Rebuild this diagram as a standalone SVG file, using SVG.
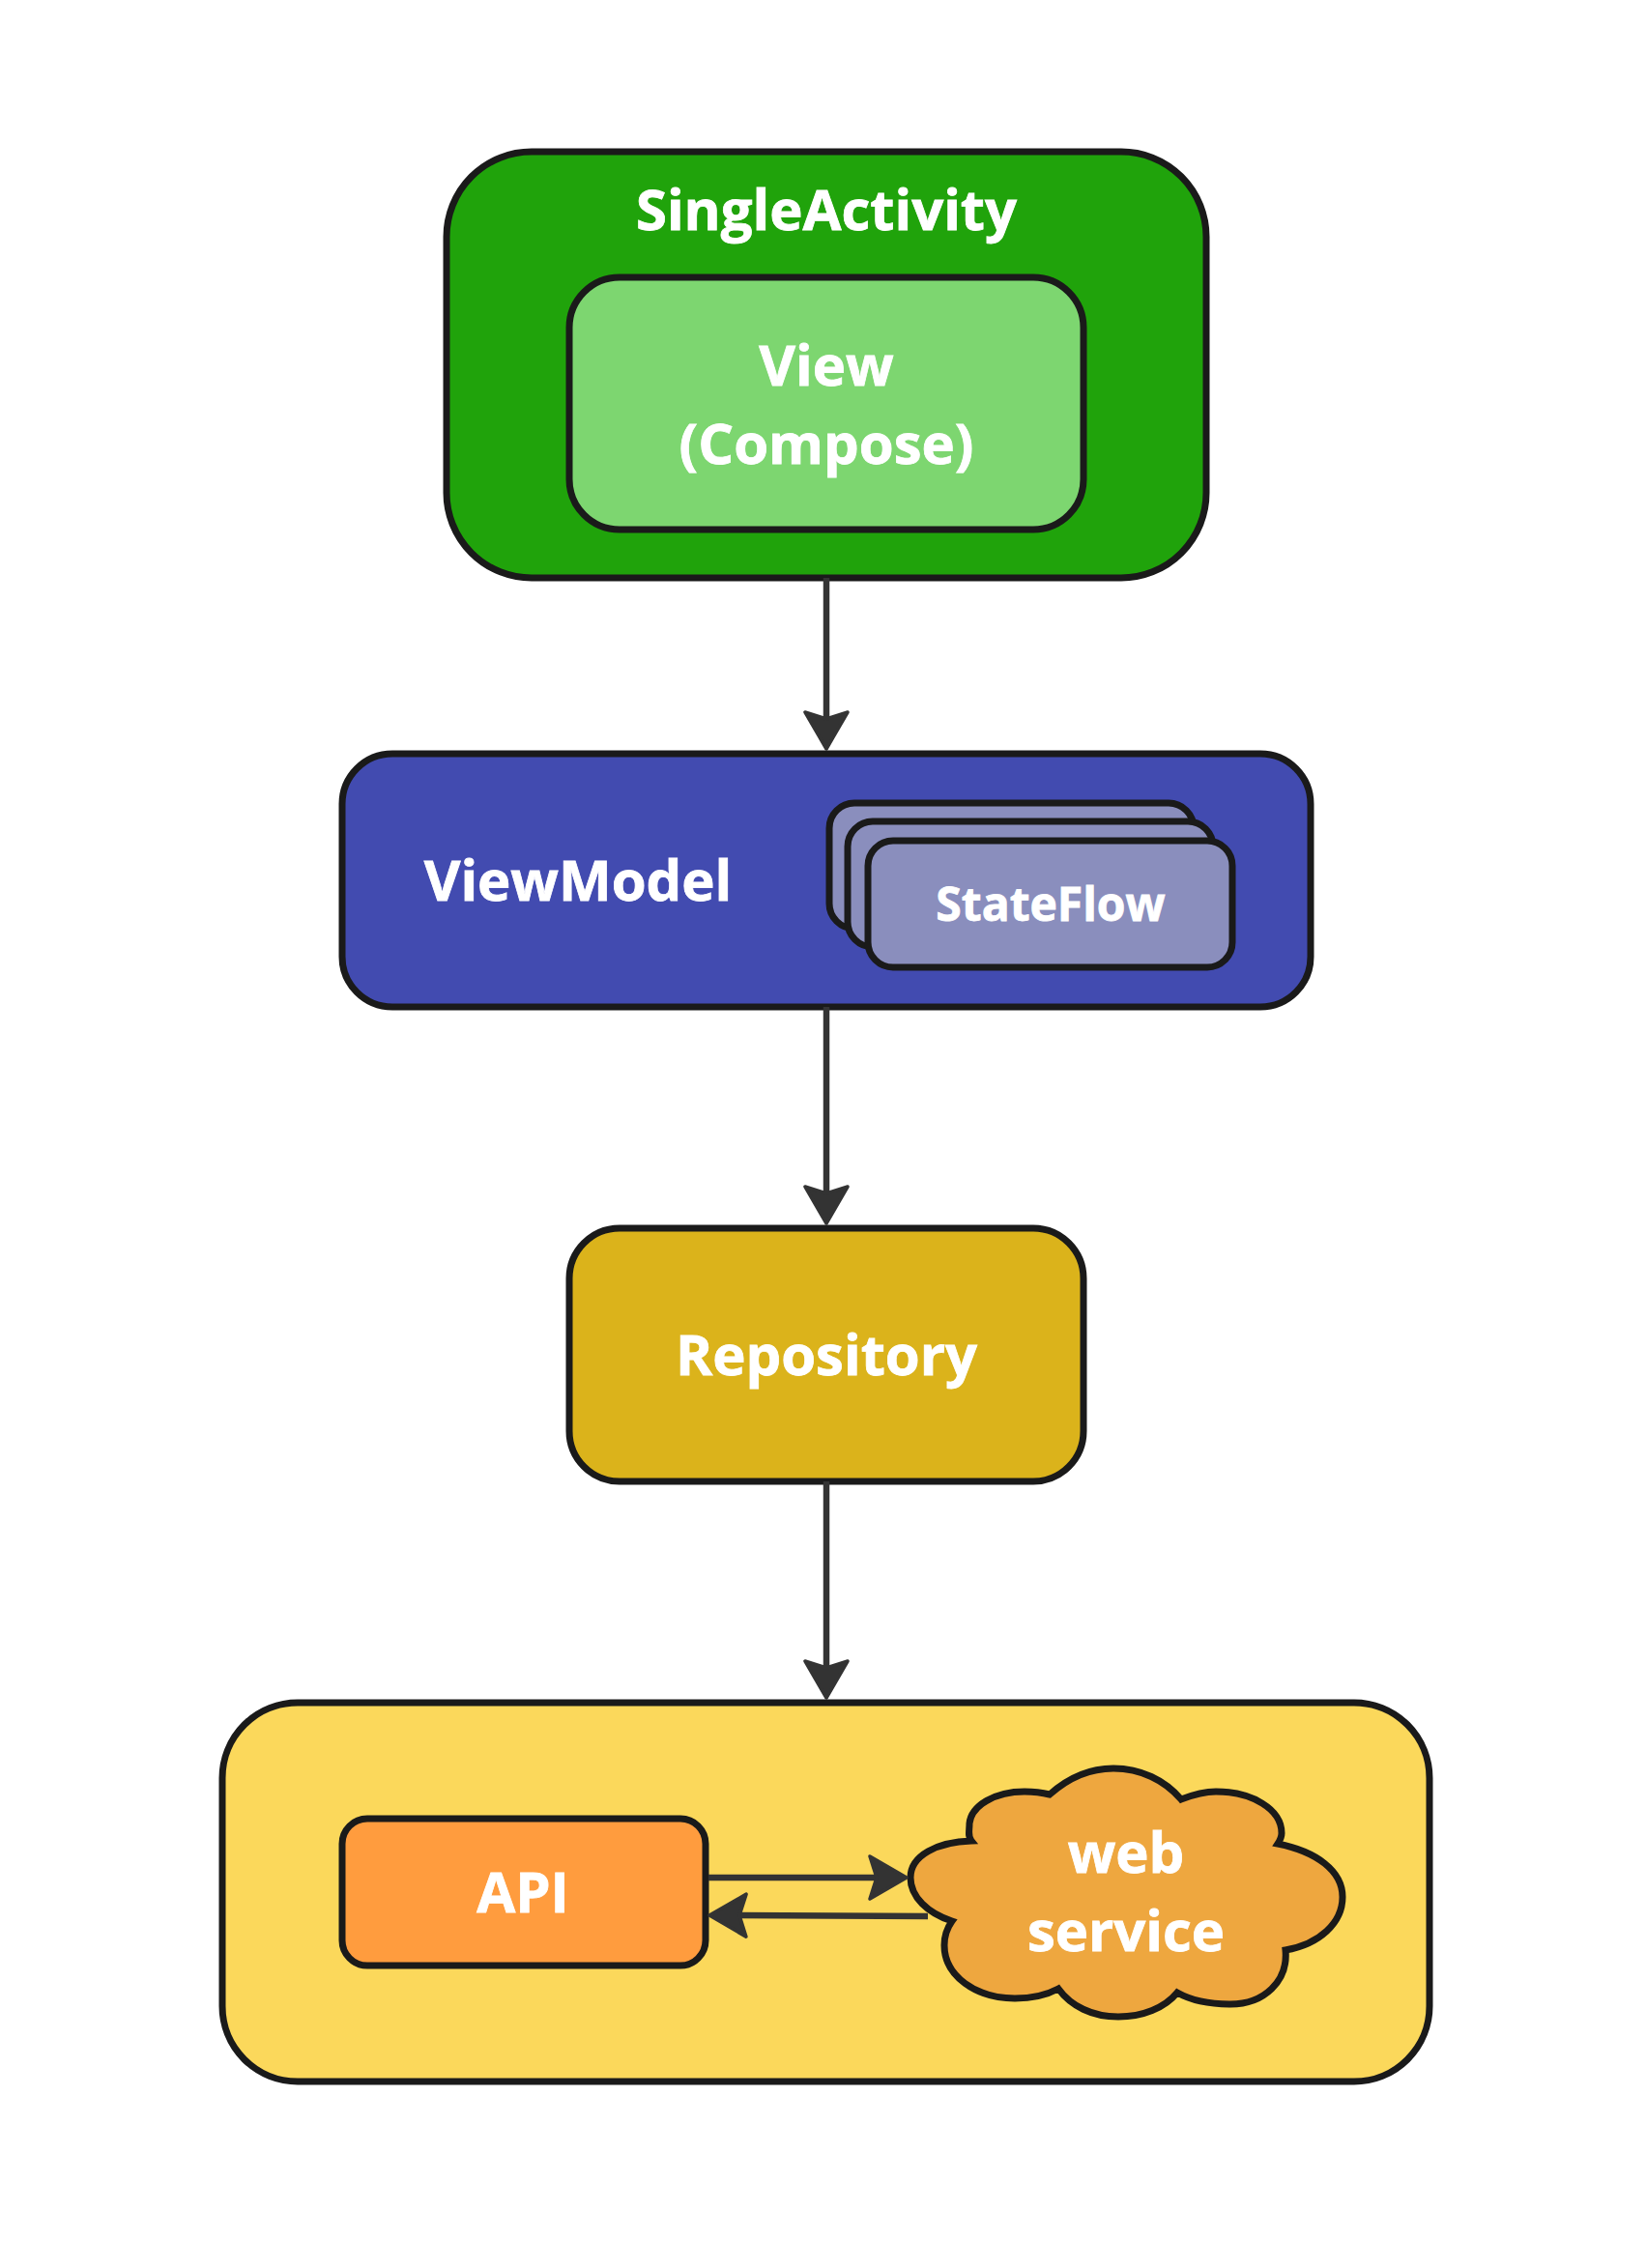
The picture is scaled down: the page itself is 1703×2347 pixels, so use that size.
<svg xmlns="http://www.w3.org/2000/svg" width="1703" height="2347" viewBox="0 0 1703 2347">
<style>
.n{stroke:#1a1a1a;stroke-width:7}
.t{font-family:"Open Sans",sans-serif;font-weight:700;fill:#fff;stroke:#fff;stroke-width:.8;text-anchor:middle;font-size:58px}
.c{fill:none;stroke:#333;stroke-width:6.5;marker-end:url(#a)}
</style>
<defs>
<marker id="a" markerUnits="userSpaceOnUse" markerWidth="60" markerHeight="60" refX="33" refY="30" orient="auto" viewBox="0 0 60 60">
<path d="M2 8 L40 30 L2 52 L9 30Z" fill="#333" stroke="#333" stroke-width="3.5" stroke-linejoin="round"/>
</marker>
</defs>
<rect width="1703" height="2347" fill="#fff"/>
<g id="single-activity">
<rect class="n" x="462" y="157" width="786" height="441" rx="88" fill="#20a30b"/>
<text class="t" x="855" y="238">SingleActivity</text>
</g>
<g id="view">
<rect class="n" x="589" y="287" width="532" height="261" rx="52" fill="#7dd670"/>
<text class="t" x="855" y="399">View</text>
<text class="t" x="855" y="480">(Compose)</text>
</g>
<g id="viewmodel">
<rect class="n" x="354" y="780" width="1002" height="262" rx="52" fill="#424bb0"/>
<text class="t" x="598" y="932">ViewModel</text>
</g>
<g id="stateflow">
<rect class="n" x="858" y="831" width="377" height="130" rx="26" fill="#8a8ebd"/>
<rect class="n" x="877" y="850" width="378" height="130" rx="26" fill="#8a8ebd"/>
<rect class="n" x="898" y="870" width="377" height="131" rx="26" fill="#8a8ebd"/>
<text class="t" x="1087" y="953" style="font-size:48px">StateFlow</text>
</g>
<g id="repository">
<rect class="n" x="589" y="1271" width="532" height="262" rx="52" fill="#dbb31b"/>
<text class="t" x="855" y="1423">Repository</text>
</g>
<g id="data-layer">
<rect class="n" x="230" y="1762" width="1249" height="392" rx="78" fill="#fbd85b"/>
</g>
<g id="api">
<rect class="n" x="354" y="1882" width="376" height="152" rx="26" fill="#ff9c3e"/>
<text class="t" x="541" y="1979">API</text>
</g>
<g id="web-service">
<path class="n" fill="#eea73f" d="M1086 1857C1105 1840 1128 1830 1152 1830C1180 1830 1205 1842 1222 1862C1235 1857 1245 1854 1258 1854C1295 1854 1326 1872 1326 1897C1326 1901 1324 1905 1322 1908C1362 1916 1389 1936 1389 1963C1389 1990 1365 2012 1330 2018C1333 2050 1308 2074 1273 2074C1254 2074 1234 2071 1218 2062C1205 2078 1182 2087 1157 2087C1130 2087 1108 2076 1095 2058C1082 2065 1066 2068 1050 2068C1010 2068 977 2045 977 2013C977 2003 980 1995 985 1988C960 1980 942 1963 942 1943C942 1920 970 1906 1005 1905C1001 1900 1003 1895 1003 1887C1005 1868 1030 1854 1060 1854C1070 1854 1078 1855 1086 1857Z"/>
<text class="t" x="1165" y="1938">web</text>
<text class="t" x="1165" y="2019">service</text>
</g>
<g id="connectors">
<path class="c" d="M855 598V768"/>
<path class="c" d="M855 1042V1259"/>
<path class="c" d="M855 1533V1750"/>
<path class="c" d="M733 1943L931 1943"/>
<path class="c" d="M960 1983L741 1982"/>
</g>
</svg>
